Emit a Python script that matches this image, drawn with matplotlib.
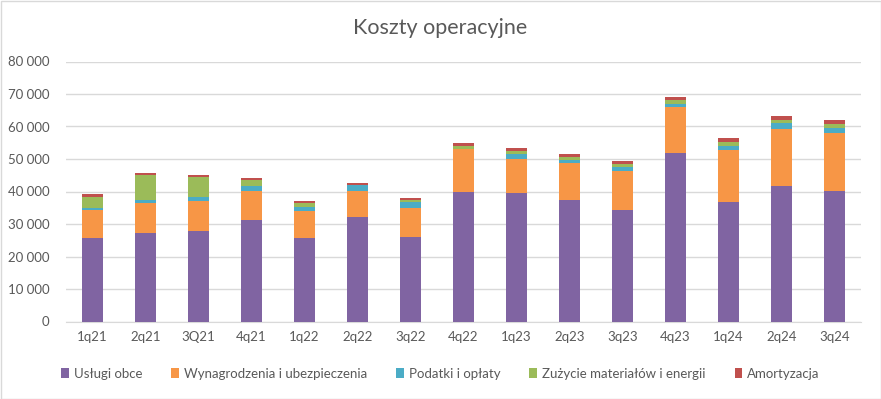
import matplotlib
matplotlib.use("Agg")
import matplotlib.pyplot as plt
import matplotlib.ticker as mticker
from matplotlib.patches import Rectangle
import numpy as np

plt.rcParams['font.family'] = ['Lato', 'DejaVu Sans']

# data
quarters = ["1q21", "2q21", "3Q21", "4q21", "1q22", "2q22", "3q22", "4q22",
            "1q23", "2q23", "3q23", "4q23", "1q24", "2q24", "3q24"]
uslugi = [25600, 27200, 27800, 31200, 25600, 32100, 25900, 39800,
          39500, 37300, 34250, 51800, 36700, 41650, 40100]
wynagrodzenia = [8650, 9200, 9200, 8900, 8300, 8000, 8900, 13200,
                 10450, 11400, 12000, 14150, 16000, 17550, 17850]
podatki = [700, 900, 1200, 1550, 1250, 1800, 1850, 100,
           1550, 900, 1250, 900, 1250, 1850, 1550]
zuzycie = [3300, 7700, 6150, 1850, 1250, 100, 600, 900,
           900, 900, 900, 1250, 1250, 900, 1250]
amortyzacja = [900, 600, 600, 600, 600, 600, 600, 900,
               900, 900, 900, 900, 1250, 1250, 1250]

series = [
    ("Usługi obce", uslugi, "#8064A2"),
    ("Wynagrodzenia i ubezpieczenia", wynagrodzenia, "#F79646"),
    ("Podatki i opłaty", podatki, "#4BACC6"),
    ("Zużycie materiałów i energii", zuzycie, "#9BBB59"),
    ("Amortyzacja", amortyzacja, "#C0504D"),
]

fig = plt.figure(figsize=(8.81, 3.99), dpi=100)
ax = fig.add_axes([66/881, 1-321.5/399, 795/881, 260/399])

x = np.arange(len(quarters))
bottom = np.zeros(len(quarters))
for name, vals, col in series:
    ax.bar(x, vals, 0.4, bottom=bottom, color=col, label=name, zorder=3)
    bottom += np.array(vals)

ax.set_xlim(-0.5, len(quarters) - 0.5)
ax.set_ylim(0, 80000)
ax.yaxis.set_major_locator(mticker.MultipleLocator(10000))
ax.yaxis.set_major_formatter(mticker.FuncFormatter(lambda v, p: f"{int(v):,}".replace(",", " ")))
ax.grid(axis='y', color='#D9D9D9', linewidth=1, zorder=0)
ax.set_xticks(x)
ax.set_xticklabels(quarters)
for s in ["top", "right", "left"]:
    ax.spines[s].set_visible(False)
ax.spines["bottom"].set_color("#D9D9D9")
ax.tick_params(axis='both', length=0, labelsize=9.5, colors="#595959")
ax.tick_params(axis='y', pad=12)
ax.tick_params(axis='x', pad=7)

fig.text(0.5, 1-28/399, "Koszty operacyjne", ha='center', va='center',
         fontsize=15.5, color="#595959")

handles, labels = ax.get_legend_handles_labels()
fig.legend(handles, labels, loc='center', bbox_to_anchor=(0.5, 1-374/399), ncol=5,
           frameon=False, fontsize=9.5, handlelength=0.6, handleheight=0.8,
           handletextpad=0.35, columnspacing=2.2, labelcolor="#595959")

fig.patches.append(Rectangle((0.5/881, 0.5/399), 1-1/881, 1-1/399, transform=fig.transFigure,
                             fill=False, edgecolor="#D9D9D9", linewidth=1))

fig.savefig("out.png", dpi=100)
